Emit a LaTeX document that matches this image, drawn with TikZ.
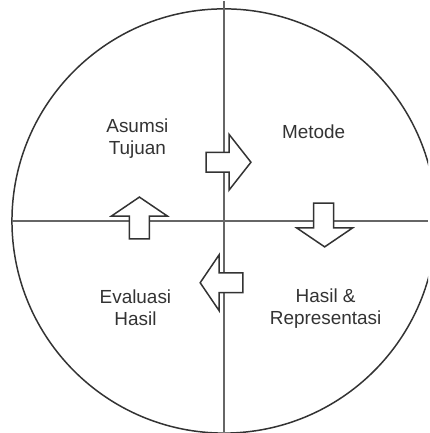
\documentclass[tikz,border=0pt]{standalone}
\usepackage{fontspec}
\setmainfont{Liberation Sans}
\begin{document}
\begin{tikzpicture}[x=1pt,y=-1pt,
  axis/.style={draw=black!60,line width=1.8pt},
  rim/.style={draw=black!80,line width=1.5pt},
  blockarrow/.style={draw=black!80,fill=white,line width=1.5pt,line join=miter},
  quadlabel/.style={inner sep=0pt,align=center,anchor=base,text=black!80,
    font=\fontsize{19}{22}\selectfont}]
  \fill[white] (0,0) rectangle (430,433);
  \begin{scope}
  \clip (0,0) rectangle (430,433);
  % outer circle and the two axes
  \draw[rim] (225,221) circle[radius=213];
  \end{scope}
  \coordinate (O) at (225,221);
  \coordinate (top) at (225,0);
  \coordinate (bottom) at (225,433);
  \coordinate (left) at (12,221);
  \coordinate (right) at (430,221);
  \draw[axis] (top) -- (bottom);
  \draw[axis] (left) -- (right);
  % block arrows, clockwise round the centre
  \filldraw[blockarrow] (207,152) -- (230,152) -- (230,134) -- (252,162)
    -- (230,190) -- (230,172) -- (207,172) -- cycle;
  \filldraw[blockarrow] (315,203) -- (335,203) -- (335,228) -- (354,228)
    -- (326,247) -- (298,228) -- (315,228) -- cycle;
  \filldraw[blockarrow] (244,273) -- (244,293) -- (220,293) -- (220,311)
    -- (201,283) -- (220,255) -- (220,273) -- cycle;
  \filldraw[blockarrow] (150,239) -- (130,239) -- (130,216) -- (112,216)
    -- (140,197) -- (168,216) -- (150,216) -- cycle;
  % quadrant labels
  \node[quadlabel] (asumsi) at (138,154) {Asumsi\\Tujuan};
  \node[quadlabel] (metode) at (315,138) {Metode};
  \node[quadlabel] (hasil) at (327,325) {Hasil \&\\Representasi};
  \node[quadlabel] (evaluasi) at (136,326) {Evaluasi\\Hasil};
  \useasboundingbox (0,0) rectangle (430,433);
\end{tikzpicture}
\end{document}
